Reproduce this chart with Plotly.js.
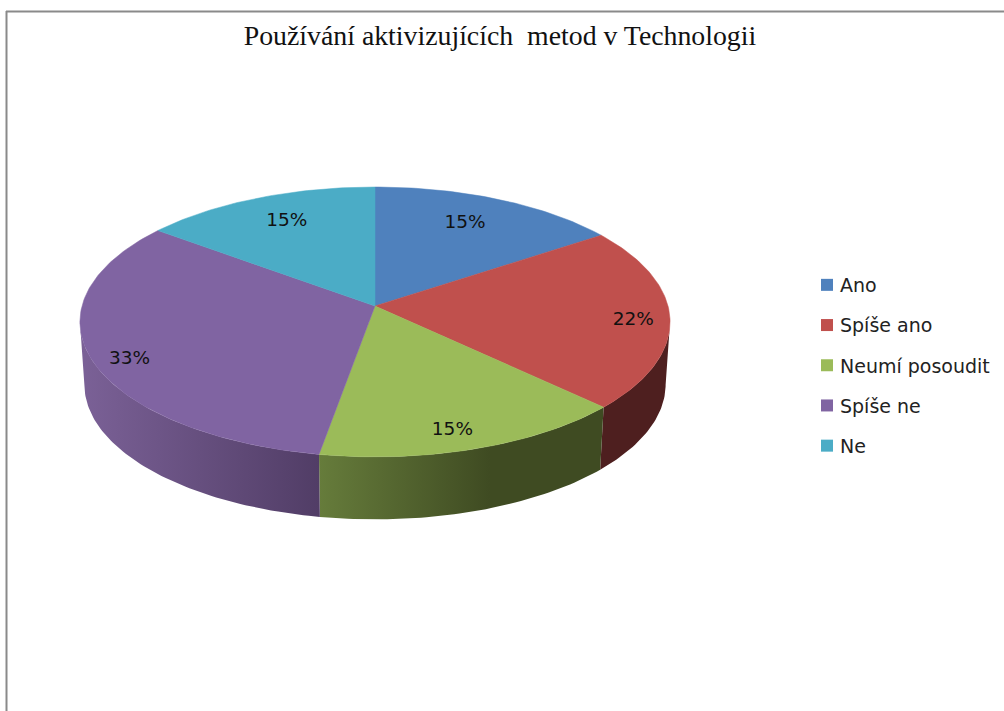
<!DOCTYPE html>
<html><head><meta charset="utf-8">
<script src="https://cdn.plot.ly/plotly-3.0.1.min.js"></script>
<style>html,body{margin:0;padding:0;background:#fff}#c{width:1004px;height:711px}</style>
</head><body><div id="c"></div>
<script>
const categories = ["Ano", "Spíše ano", "Neumí posoudit", "Spíše ne", "Ne"];
const values = [15.4, 21.9, 15.4, 32.7, 14.6];
const colors = ["#4f81bd", "#c0504d", "#9bbb59", "#8064a2", "#4bacc6"];
const wallRamps = [
  [[0, "#2c4a6e"], [1, "#2c4a6e"]],
  [[0, "#4e1f1f"], [1, "#4e1f1f"]],
  [[0, "#667c3b"], [0.6, "#3f4b22"], [1, "#3f4b22"]],
  [[0, "#7b6197"], [1, "#513d66"]],
  [[0, "#2f6b7c"], [1, "#2f6b7c"]]
];
const labelReach = [0.76, 0.88, 0.88, 0.88, 0.76];
const labelNudge = [[-6, 0], [-1, 4], [-11, 1], [4, 9], [3, -1]];

// Perspective view of a flat disc
const cx = 375, cy = 306, R = 293, k = 0.118, S = 119 * (1 + k), depth = 62.5, baseShrink = 0.985;
function project(deg, r, drop) {
  const a = deg * Math.PI / 180, u = r * Math.sin(a), v = r * Math.cos(a), w = 1 + k * v;
  return [cx + (drop ? baseShrink : 1) * R * u / w, cy - S * v / w + (drop ? depth : 0)];
}
function arc(a0, a1, drop) {
  const n = Math.max(2, Math.ceil(Math.abs(a1 - a0))), pts = [];
  for (let i = 0; i <= n; i++) pts.push(project(a0 + (a1 - a0) * i / n, 1, drop));
  return pts;
}
const total = values.reduce((s, x) => s + x, 0);
let acc = 0;
const spans = values.map(x => { const a0 = acc / total * 360; acc += x; return [a0, acc / total * 360]; });
// the rim is visible between the two silhouette angles of the ellipse
const rimStart = Math.acos(-k) * 180 / Math.PI, rimEnd = 360 - rimStart;

const traces = [];
// side walls
spans.forEach((sp, i) => {
  const a0 = Math.max(sp[0], rimStart), a1 = Math.min(sp[1], rimEnd);
  if (a1 <= a0) return;
  const pts = arc(a0, a1, false).concat(arc(a1, a0, true));
  pts.push(pts[0]);
  traces.push({type: "scatter", mode: "lines", x: pts.map(p => p[0]), y: pts.map(p => p[1]),
    fill: "toself", line: {width: 0}, fillcolor: wallRamps[i][0][1],
    fillgradient: {type: "horizontal", colorscale: wallRamps[i]},
    showlegend: false, hoverinfo: "skip"});
});
// top faces
spans.forEach((sp, i) => {
  const pts = [[cx, cy]].concat(arc(sp[0], sp[1], false));
  pts.push([cx, cy]);
  traces.push({type: "scatter", mode: "lines", x: pts.map(p => p[0]), y: pts.map(p => p[1]),
    fill: "toself", fillcolor: colors[i], line: {width: 0.5, color: colors[i]},
    name: categories[i], showlegend: false, hoverinfo: "name"});
});
// percent labels
const labelPts = spans.map((sp, i) => {
  const p = project((sp[0] + sp[1]) / 2, labelReach[i], false);
  return [p[0] + labelNudge[i][0], p[1] + labelNudge[i][1]];
});
traces.push({type: "scatter", mode: "text", x: labelPts.map(p => p[0]), y: labelPts.map(p => p[1]),
  text: values.map(x => Math.round(x / total * 100) + "%"), textposition: "middle center",
  textfont: {family: "DejaVu Sans", size: 18.5, color: "#111"}, showlegend: false, hoverinfo: "skip", cliponaxis: false});
// legend entries
categories.forEach((c, i) => traces.push({type: "scatter", mode: "markers", x: [null], y: [null], name: c,
  legendgroup: c, marker: {symbol: "square", size: 12, color: colors[i]}}));

const layout = {
  width: 1004, height: 711, margin: {l: 0, r: 0, t: 0, b: 0},
  paper_bgcolor: "#fff", plot_bgcolor: "#fff",
  xaxis: {range: [0, 1004], visible: false, fixedrange: true},
  yaxis: {range: [711, 0], visible: false, fixedrange: true},
  title: {text: "Používání aktivizujících\u00a0 metod v Technologii", x: 500 / 1004, xanchor: "center", xref: "paper",
    y: 1 - 35.5 / 711, yanchor: "middle", yref: "paper", font: {family: "Liberation Serif", size: 27.8, color: "#111"}},
  legend: {x: 807 / 1004, xanchor: "left", y: 1 - 266 / 711, yanchor: "top", bgcolor: "rgba(0,0,0,0)",
    tracegroupgap: 12.5, itemwidth: 30, indentation: -7, font: {family: "DejaVu Sans", size: 19, color: "#222"}},
  shapes: [
    {type: "line", x0: 6.5, x1: 6.5, y0: 11, y1: 711, line: {color: "#8a8a8a", width: 2}},
    {type: "line", x0: 6, x1: 1004, y0: 11.5, y1: 11.5, line: {color: "#8a8a8a", width: 2}}
  ]
};
Plotly.newPlot("c", traces, layout, {displayModeBar: false, staticPlot: true}).then(gd => {
  // bring the legend swatches closer to their text, as in the reference
  gd.querySelectorAll(".legend .layers").forEach(g => {
    g.setAttribute("transform", "translate(7,0) " + (g.getAttribute("transform") || ""));
  });
});
</script></body></html>
